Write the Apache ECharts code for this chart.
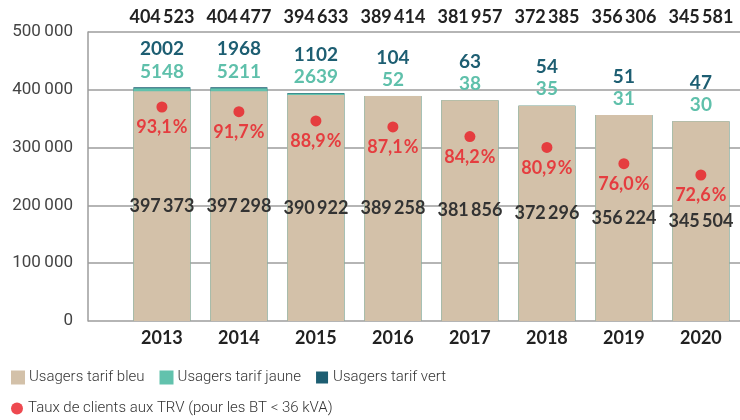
<!DOCTYPE html>
<html>
<head>
<meta charset="utf-8">
<script src="https://cdn.jsdelivr.net/npm/echarts@6/dist/echarts.min.js"></script>
<style>
  html, body { margin: 0; background: #fff; }
  #chart { width: 740px; height: 420px; }
</style>
</head>
<body>
<div id="chart"></div>
<script>
// données
const years = ["2013", "2014", "2015", "2016", "2017", "2018", "2019", "2020"];
const bleu = [397373, 397298, 390922, 389258, 381856, 372296, 356224, 345504];
const jaune = [5148, 5211, 2639, 52, 38, 35, 31, 30];
const vert = [2002, 1968, 1102, 104, 63, 54, 51, 47];
const totals = [404523, 404477, 394633, 389414, 381957, 372385, 356306, 345581];
const tauxTRV = [93.1, 91.7, 88.9, 87.1, 84.2, 80.9, 76.0, 72.6];

const idx = years.map((_, i) => i);

// cumuls pour empiler les barres (superposées)
const cumJaune = bleu.map((v, i) => v + jaune[i]);
const cumVert = cumJaune.map((v, i) => v + vert[i]);

// séparateur de milliers fin (format français)
const fmt = (n) =>
  n >= 10000 ? String(n).replace(/\B(?=(\d{3})+(?!\d))/g, "\u2009") : String(n);
const fmtPct = (p) => p.toFixed(1).replace(".", ",") + "\u200a%";

const boldFont = "Lato, 'Open Sans', sans-serif";
const legendFont = "Roboto, sans-serif";
const xRange = { min: -0.96, max: 7.508 };

const colBleu = "#d3c1a9";
const colJaune = "#62c2ad";
const colVert = "#1d5e72";
const colRouge = "#ea1c24";

const chart = echarts.init(document.getElementById("chart"));

const legendText = {
  fontFamily: legendFont,
  fontWeight: 300,
  fontSize: 15,
  color: "#333",
};

chart.setOption({
  animation: false,
  grid: { left: 88, right: 0, top: 32, bottom: 99 },
  legend: [
    {
      data: ["Usagers tarif bleu", "Usagers tarif jaune", "Usagers tarif vert"],
      left: 6,
      top: 365,
      icon: "rect",
      itemWidth: 12,
      itemHeight: 12,
      itemGap: 15,
      textStyle: legendText,
    },
    {
      data: ["Taux de clients aux TRV (pour les BT < 36 kVA)"],
      left: 6,
      top: 396,
      icon: "circle",
      itemWidth: 12,
      itemHeight: 12,
      textStyle: legendText,
    },
  ],
  xAxis: [
    {
      type: "value",
      ...xRange,
      position: "bottom",
      axisLine: { show: false },
      axisTick: { show: false },
      splitLine: { show: false },
      axisLabel: {
        customValues: idx,
        formatter: (v) => years[v],
        margin: 8,
        fontFamily: boldFont,
        fontWeight: "bold",
        fontSize: 18,
        color: "#222",
      },
    },
    {
      // totaux au-dessus du graphique
      type: "value",
      ...xRange,
      position: "top",
      axisLine: { show: false },
      axisTick: { show: false },
      splitLine: { show: false },
      axisLabel: {
        customValues: idx,
        formatter: (v) => fmt(totals[v]),
        margin: 6,
        fontFamily: boldFont,
        fontWeight: "bold",
        fontSize: 18,
        color: "#222",
      },
    },
  ],
  yAxis: [
    {
      type: "value",
      min: 0,
      max: 500000,
      interval: 100000,
      axisLine: { show: true, onZero: false, lineStyle: { color: "#9c9c9c", width: 1.5 } },
      axisTick: { show: false },
      splitLine: { lineStyle: { color: "#9c9c9c", width: 1.5 } },
      axisLabel: {
        formatter: (v) => fmt(v),
        margin: 15,
        fontFamily: "Roboto, sans-serif",
        fontSize: 17,
        color: "#444",
      },
    },
    {
      // axe caché pour les taux
      type: "value",
      min: 28.6,
      max: 115.7,
      show: false,
      splitLine: { show: false },
    },
  ],
  series: [
    {
      name: "Usagers tarif vert",
      type: "bar",
      barWidth: 57,
      barGap: "-100%",
      data: cumVert.map((v, i) => [i, v]),
      itemStyle: { color: colVert },
      label: {
        show: true,
        position: "top",
        distance: 29,
        formatter: (p) => fmt(vert[p.dataIndex]),
        fontFamily: boldFont,
        fontWeight: "bold",
        fontSize: 19,
        color: colVert,
      },
    },
    {
      name: "Usagers tarif jaune",
      type: "bar",
      barWidth: 57,
      barGap: "-100%",
      data: cumJaune.map((v, i) => [i, v]),
      itemStyle: { color: colJaune, borderColor: colJaune, borderWidth: 1 },
      label: {
        show: true,
        position: "top",
        distance: 7,
        formatter: (p) => fmt(jaune[p.dataIndex]),
        fontFamily: boldFont,
        fontWeight: "bold",
        fontSize: 19,
        color: "#5fc0ab",
      },
    },
    {
      name: "Usagers tarif bleu",
      type: "bar",
      barWidth: 57,
      barGap: "-100%",
      data: bleu.map((v, i) => [i, v]),
      itemStyle: { color: colBleu, borderColor: colBleu, borderWidth: 1.5 },
      label: {
        show: true,
        position: "inside",
        formatter: (p) => fmt(bleu[p.dataIndex]),
        fontFamily: boldFont,
        fontWeight: "bold",
        fontSize: 18,
        color: "#333",
      },
    },
    {
      name: "Taux de clients aux TRV (pour les BT < 36 kVA)",
      type: "scatter",
      yAxisIndex: 1,
      symbolSize: 11,
      data: tauxTRV.map((v, i) => [i, v]),
      itemStyle: { color: colRouge },
      label: {
        show: true,
        position: "bottom",
        distance: 6,
        formatter: (p) => fmtPct(p.value[1]),
        fontFamily: boldFont,
        fontWeight: "bold",
        fontSize: 18,
        color: colRouge,
      },
    },
  ],
});
</script>
</body>
</html>
